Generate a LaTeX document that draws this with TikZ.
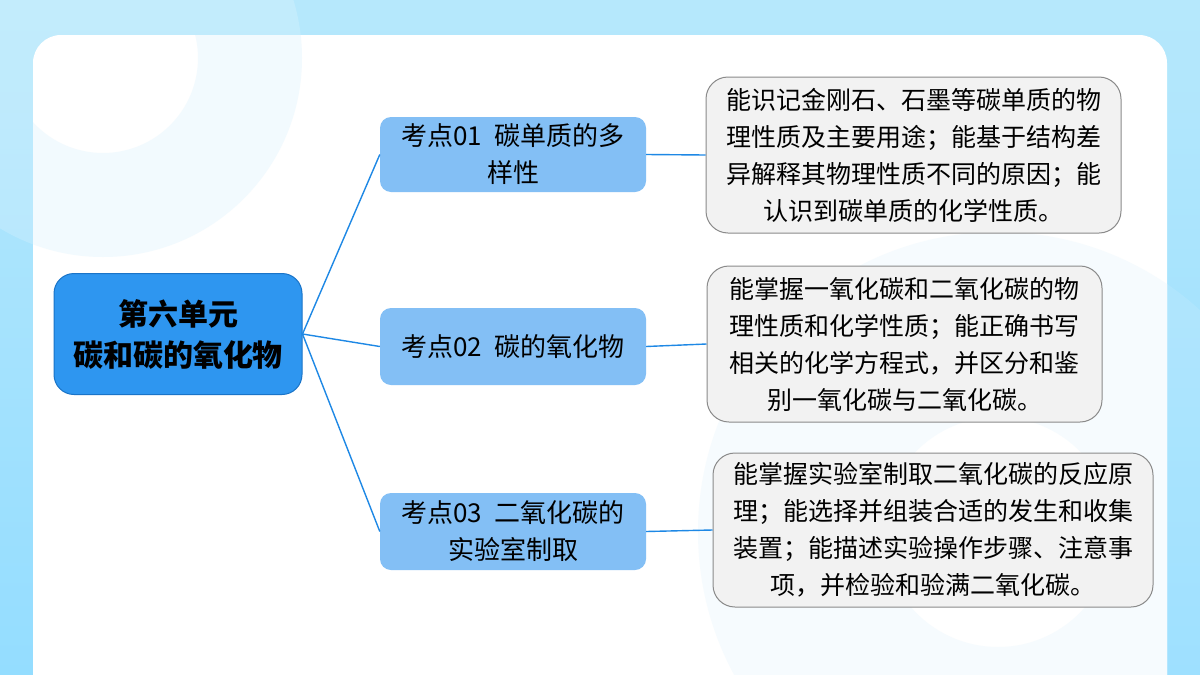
\documentclass[tikz,border=0pt]{standalone}
\usepackage{fontspec}
\setmainfont[Kerning=Off]{Noto Sans CJK SC}
\definecolor{bgtop}{HTML}{B6E8FC}
\definecolor{bgbot}{HTML}{94DDFF}
\definecolor{ringc}{HTML}{F2FAFE}
\definecolor{rootfill}{HTML}{2E96F0}
\definecolor{rootdraw}{HTML}{1A74C8}
\definecolor{midfill}{HTML}{83BFF5}
\definecolor{boxfill}{HTML}{F2F2F2}
\definecolor{boxdraw}{HTML}{8A8A8A}
\definecolor{linkc}{HTML}{1E88E5}
\begin{document}
\begin{tikzpicture}[x=1pt,y=-1pt,
  rootbox/.style={draw=rootdraw,line width=1pt,fill=rootfill,rounded corners=20pt,
    minimum width=248pt,minimum height=121pt,inner sep=0pt,align=center,
    font=\fontsize{30}{41}\selectfont\bfseries},
  midbox/.style={fill=midfill,rounded corners=11pt,minimum width=266pt,
    inner sep=0pt,align=center,font=\fontsize{26}{37}\selectfont},
  infobox/.style={draw=boxdraw,line width=1pt,fill=boxfill,rounded corners=22pt,
    inner sep=0pt,align=center,font=\fontsize{25}{37}\selectfont},
  link/.style={draw=linkc,line width=1.4pt}]
\useasboundingbox (0,0) rectangle (1200,675);
% background
\shade[top color=bgtop,bottom color=bgbot] (0,0) rectangle (1200,675);
\fill[white,opacity=0.18] (103,58) circle (199);
\fill[white,opacity=0.1] (998,532) circle (300);
% panel
\fill[white,rounded corners=28pt] (33,35) rectangle (1167,720);
\begin{scope}
  \clip[rounded corners=28pt] (33,35) rectangle (1167,720);
  \fill[ringc,even odd rule] (103,58) circle (199) (103,58) circle (95);
  \fill[ringc!70!white,even odd rule] (998,532) circle (300) (998,532) circle (115);
\end{scope}
% nodes
\node[rootbox] (root) at (178,334) {第六单元\\碳和碳的氧化物};
\node[midbox,minimum height=75pt] (m1) at (513,154.5) {考点01\hspace{0.5em}碳单质的多\\样性};
\node[midbox,minimum height=77pt] (m2) at (513,346.5) {考点02\hspace{0.5em}碳的氧化物};
\node[midbox,minimum height=77pt] (m3) at (513,531.5) {考点03\hspace{0.5em}二氧化碳的\\实验室制取};
\node[infobox,minimum width=415pt,minimum height=156pt] (r1) at (913.5,155)
  {能识记金刚石、石墨等碳单质的物\\理性质及主要用途；能基于结构差\\异解释其物理性质不同的原因；能\\认识到碳单质的化学性质。};
\node[infobox,minimum width=395pt,minimum height=156pt] (r2) at (904.5,344)
  {能掌握一氧化碳和二氧化碳的物\\理性质和化学性质；能正确书写\\相关的化学方程式，并区分和鉴\\别一氧化碳与二氧化碳。};
\node[infobox,minimum width=440pt,minimum height=154pt] (r3) at (933,530)
  {能掌握实验室制取二氧化碳的反应原\\理；能选择并组装合适的发生和收集\\装置；能描述实验操作步骤、注意事\\项，并检验和验满二氧化碳。};
% connectors
\path[link] (root.east) -- (m1.west);
\path[link] (root.east) -- (m2.west);
\path[link] (root.east) -- (m3.west);
\path[link] (m1.east) -- (r1.west);
\path[link] (m2.east) -- (r2.west);
\path[link] (m3.east) -- (r3.west);
\end{tikzpicture}
\end{document}
